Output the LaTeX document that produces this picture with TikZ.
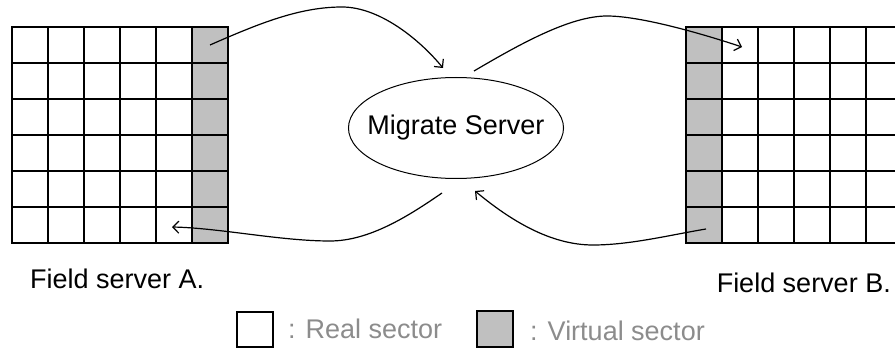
\documentclass[tikz,border=0pt]{standalone}
\usepackage{fontspec}
\setmainfont{Liberation Sans}
\usetikzlibrary{arrows.meta,shapes.geometric}
\definecolor{vgray}{RGB}{192,192,192}
\definecolor{lgray}{RGB}{140,140,140}
\begin{document}
\begin{tikzpicture}[x=1pt,y=-1pt,
  gridline/.style={line width=1.7pt, line cap=rect},
  flow/.style={line width=1.2pt,-{Straight Barb[length=6pt,width=12pt,line width=1.2pt]}},
  lbl/.style={font=\fontsize{27}{30}\selectfont, inner sep=0pt},
  leg/.style={lbl, text=lgray},
  legbox/.style={draw, line width=1.5pt}]
\useasboundingbox (0,0) rectangle (895,350);
% left grid (Field server A)
\fill[vgray] (192,27) rectangle (228,243);
\foreach \i in {0,...,6} \draw[gridline] (12+36*\i,27) -- (12+36*\i,243);
\foreach \j in {0,...,6} \draw[gridline] (12,27+36*\j) -- (228,27+36*\j);
% right grid (Field server B)
\fill[vgray] (686,27) rectangle (722,243);
\foreach \i in {0,...,5} \draw[gridline] (686+36*\i,27) -- (686+36*\i,243);
\foreach \j in {0,...,6} \draw[gridline] (686,27+36*\j) -- (895,27+36*\j);
% migrate server
\node[ellipse, draw, line width=1pt, lbl, inner xsep=-12.5pt, inner ysep=20pt, minimum height=101pt] (ms) at (456,128) {Migrate Server};
% connector end points
\coordinate (a1s) at (210,45);
\coordinate (a1e) at (443,68);
\coordinate (a2s) at (474,71);
\coordinate (a2e) at (742,47);
\coordinate (a3s) at (442,193);
\coordinate (a3e) at (172,227);
\coordinate (a4s) at (706,229);
\coordinate (a4e) at (475,191);
\draw[flow] (a1s) .. controls (260,23) and (300,7) .. (342,7) .. controls (380,7) and (420,40) .. (a1e);
\draw[flow] (a2s) .. controls (520,44) and (570,16) .. (607,16) .. controls (640,16) and (700,33) .. (a2e);
\draw[flow] (a3s) .. controls (410,215) and (370,241) .. (330,241) .. controls (280,241) and (220,228) .. (a3e);
\draw[flow] (a4s) .. controls (670,235) and (630,245) .. (593,245) .. controls (550,245) and (510,220) .. (a4e);
% labels
\node[lbl, anchor=base west] (fsa) at (30,288) {Field server A.};
\node[lbl, anchor=base east] (fsb) at (891,292) {Field server B.};
% legend
\node[legbox, fill=white, minimum width=36pt, minimum height=35pt, inner sep=0pt] (lr) at (255,329.5) {};
\node[leg, anchor=base west] (lrt) at (288,338) {: Real sector};
\node[legbox, fill=vgray, minimum width=36pt, minimum height=36pt, inner sep=0pt] (lv) at (495,329) {};
\node[leg, anchor=base west] (lvt) at (530,340) {: Virtual sector};
\end{tikzpicture}
\end{document}
